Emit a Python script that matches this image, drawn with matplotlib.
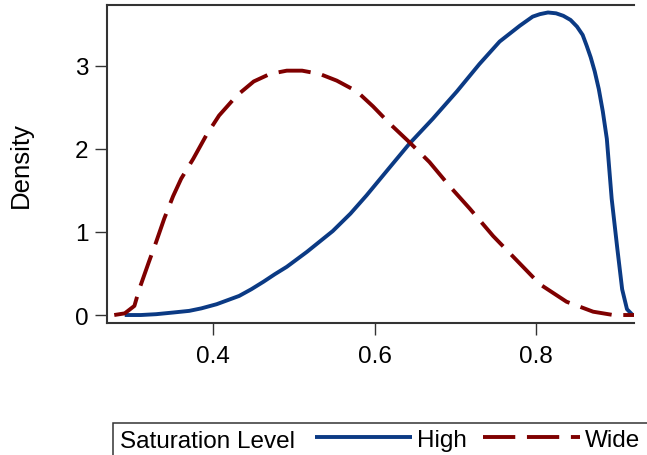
import matplotlib
matplotlib.use("Agg")
import matplotlib.pyplot as plt
from matplotlib.patches import Rectangle

plt.rcParams['font.family'] = ['Liberation Sans', 'DejaVu Sans']

# Data
high_x = [0.290, 0.310, 0.329, 0.350, 0.370, 0.385, 0.404, 0.418, 0.432, 0.447, 0.462,
          0.476, 0.491, 0.516, 0.548, 0.570, 0.590, 0.619, 0.643, 0.672, 0.702, 0.730,
          0.755, 0.780, 0.796, 0.805, 0.815, 0.825, 0.834, 0.843, 0.851, 0.858, 0.863,
          0.868, 0.873, 0.878, 0.883, 0.888, 0.894, 0.901, 0.907, 0.913, 0.920]
high_y = [0.00, 0.00, 0.01, 0.03, 0.05, 0.08, 0.13, 0.18, 0.23, 0.31, 0.40,
          0.49, 0.58, 0.76, 1.01, 1.22, 1.44, 1.78, 2.06, 2.36, 2.69, 3.02,
          3.29, 3.48, 3.59, 3.62, 3.64, 3.63, 3.60, 3.55, 3.47, 3.37, 3.24,
          3.10, 2.93, 2.72, 2.45, 2.12, 1.40, 0.80, 0.31, 0.07, 0.00]

wide_x = [0.277, 0.290, 0.302, 0.308, 0.320, 0.329, 0.339, 0.350, 0.360, 0.375, 0.391,
          0.407, 0.429, 0.450, 0.470, 0.491, 0.510, 0.532, 0.553, 0.578, 0.598, 0.619,
          0.643, 0.668, 0.693, 0.718, 0.747, 0.771, 0.805, 0.838, 0.871, 0.896, 0.922]
wide_y = [0.00, 0.02, 0.11, 0.31, 0.64, 0.88, 1.16, 1.43, 1.64, 1.88, 2.16,
          2.40, 2.64, 2.81, 2.90, 2.94, 2.94, 2.90, 2.82, 2.69, 2.51, 2.30,
          2.08, 1.84, 1.55, 1.28, 0.95, 0.71, 0.37, 0.16, 0.04, 0.00, 0.00]

series_labels = ["High", "Wide"]
series_colors = ["#0b3a84", "#7f0000"]
legend_title = "Saturation Level"
x_ticks = [0.4, 0.6, 0.8]
x_ticklabels = ["0.4", "0.6", "0.8"]
y_ticks = [0, 1, 2, 3]
y_ticklabels = ["0", "1", "2", "3"]
y_label = "Density"

W, H = 647, 456
FS = 17.5
fig = plt.figure(figsize=(W / 100, H / 100), dpi=100)
ax = fig.add_axes([107 / W, 1 - 324 / H, (634 - 107) / W, (324 - 6) / H])

lw = 2.8
ax.plot(high_x, high_y, color=series_colors[0], lw=lw, label=series_labels[0],
        solid_capstyle='butt', solid_joinstyle='round')
ax.plot(wide_x, wide_y, color=series_colors[1], lw=lw, label=series_labels[1],
        dashes=(8.3, 3.0), dash_capstyle='butt', dash_joinstyle='round')

ax.set_xlim(0.268, 0.9217)
ax.set_ylim(-0.096, 3.73)

spine_col = "#333333"
for s in ['left', 'top', 'bottom']:
    ax.spines[s].set_color(spine_col)
    ax.spines[s].set_linewidth(1.5)
ax.spines['right'].set_visible(False)

ax.set_xticks(x_ticks)
ax.set_xticklabels(x_ticklabels)
ax.set_yticks(y_ticks)
ax.set_yticklabels(y_ticklabels)
ax.tick_params(axis='both', which='both', direction='out', length=8.5, width=1.0,
               color=spine_col, labelsize=FS, top=False, right=False)
ax.tick_params(axis='x', pad=7)
ax.tick_params(axis='y', pad=5)

ax.set_ylabel(y_label, fontsize=18.5)
ax.yaxis.set_label_coords(-0.14, 0.5)

# Legend frame (extends past the figure edge, as in the reference)
frame = Rectangle((113 / W, -0.2), 1.0, (1 - 424 / H) + 0.2, transform=fig.transFigure,
                  facecolor='white', edgecolor=spine_col, lw=1.1)
fig.add_artist(frame)
fig.text(120 / W, 1 - 448 / H, legend_title, fontsize=FS, va='baseline', ha='left')

leg = fig.legend(loc='center left', bbox_to_anchor=(315 / W, 1 - 441 / H), ncol=2,
                 frameon=False, fontsize=FS, handlelength=4.0, handletextpad=0.2,
                 columnspacing=0.65, borderpad=0, borderaxespad=0)

fig.savefig("out.png", dpi=100)
